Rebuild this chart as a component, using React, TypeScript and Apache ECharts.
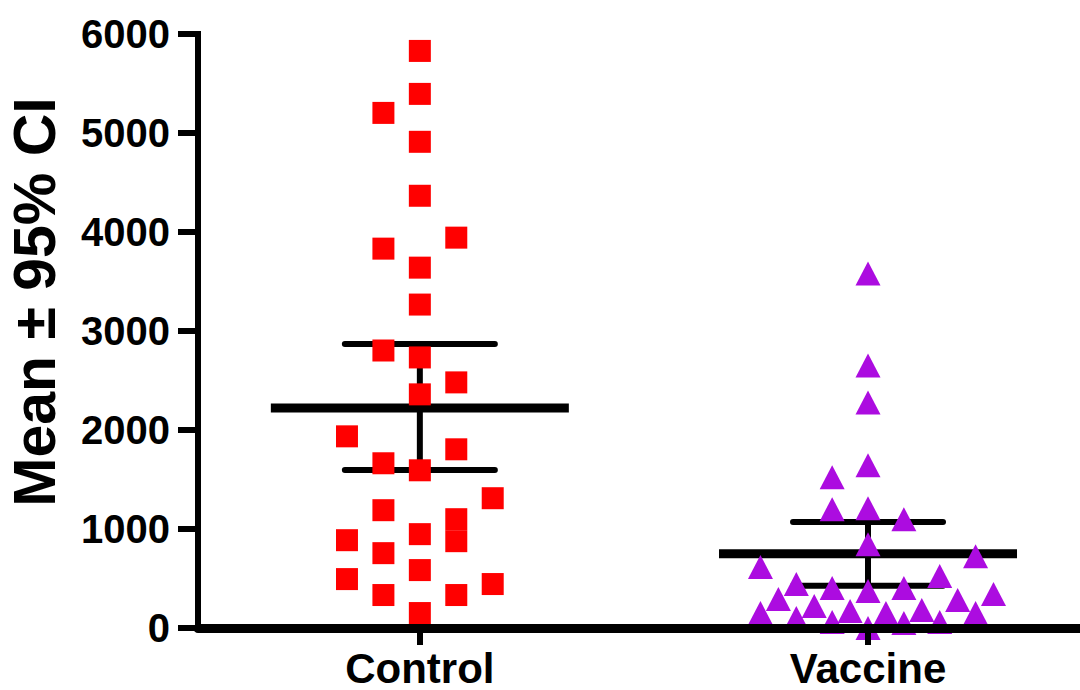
import React, { useEffect, useRef } from "react";
import * as echarts from "echarts";

// Groups on the x axis (placed at x = 1 and x = 2)
const CATEGORIES = ["Control", "Vaccine"];

// Individual measurements per group
const controlValues = [
  5829, 5395, 5203, 4911, 4366, 3943, 3832, 3640, 3267, 2803,
  2733, 2481, 2360, 1936, 1805, 1664, 1593, 1311, 1190, 1099,
  948, 887, 877, 756, 585, 494, 444, 333, 333, 151,
];
// Column slot of each point in the scatter-dot spread
const controlSlots = [
  0, 0, -1, 0, 0, 1, -1, 0, 0, -1,
  0, 1, 0, -2, 1, -1, 0, 2, -1, 1,
  0, -2, 1, -1, 0, -2, 2, -1, 1, 0,
];

const vaccineValues = [
  3580, 2652, 2279, 1644, 1523, 1200, 1210, 1099, 847, 726,
  615, 524, 444, 403, 373, 403, 343, 292, 282, 222,
  171, 182, 151, 151, 151, 101, 60, 50, 60, 0,
];
const vaccineSlots = [
  0, 0, 0, 0, -2, -2, 0, 2, 0, 6,
  -6, 4, -4, -2, 0, 2, 7, -5, 5, -3,
  -1, 3, -6, 1, 6, -4, -2, 2, 4, 0,
];

// Mean and 95% confidence interval per group: [mean, lower, upper]
const controlStats = [2222, 1596, 2869];
const vaccineStats = [750, 428, 1071];

const Y_MIN = 0;
const Y_MAX = 6000;
const Y_INTERVAL = 1000;

const FONT = '"Liberation Sans", Arial, Helvetica, sans-serif';

export default function App() {
  const ref = useRef<HTMLDivElement>(null);

  useEffect(() => {
    if (!ref.current) return;
    const chart = echarts.init(ref.current, null, { renderer: "svg" });

    const controlData = controlValues.map((v, i) => [1 + controlSlots[i] * 0.0813, v]);
    const vaccineData = vaccineValues.map((v, i) => [2 + vaccineSlots[i] * 0.04, v]);
    const statsData = [
      [1, ...controlStats],
      [2, ...vaccineStats],
    ];

    chart.setOption({
      animation: false,
      backgroundColor: "#ffffff",
      grid: {
        left: 198,
        right: 0,
        top: 34,
        bottom: 62,
        containLabel: false,
        outerBoundsMode: "none",
      },
      xAxis: {
        type: "value",
        min: 0.505,
        max: 2.473,
        z: 5,
        splitLine: { show: false },
        axisLine: { show: true, lineStyle: { color: "#000", width: 9 } },
        axisTick: {
          show: true,
          customValues: [1, 2],
          length: 17,
          lineStyle: { color: "#000", width: 6 },
        },
        axisLabel: {
          show: true,
          customValues: [1, 2],
          formatter: (v: number) => CATEGORIES[Math.round(v) - 1] ?? "",
          margin: 21,
          color: "#000",
          fontSize: 42,
          lineHeight: 38,
          fontWeight: "bold",
          fontFamily: FONT,
        },
      },
      yAxis: {
        type: "value",
        min: Y_MIN,
        max: Y_MAX,
        interval: Y_INTERVAL,
        splitLine: { show: false },
        axisLine: { show: true, lineStyle: { color: "#000", width: 6, cap: "square" } },
        axisTick: { show: true, length: 20, lineStyle: { color: "#000", width: 6 } },
        axisLabel: {
          margin: 28,
          color: "#000",
          fontSize: 40,
          fontWeight: "bold",
          fontFamily: FONT,
          formatter: (v: number) => String(v),
        },
        name: "Mean ± 95% CI",
        nameLocation: "middle",
        nameRotate: 90,
        nameGap: 140,
        nameTextStyle: {
          color: "#000",
          fontSize: 59,
          lineHeight: 46,
          fontWeight: "bold",
          fontFamily: FONT,
          padding: [0, 0, 0, 58],
        },
      },
      series: [
        {
          type: "custom",
          name: "Mean and CI",
          z: 1,
          clip: false,
          data: statsData,
          renderItem: (params: any, api: any) => {
            const x = api.value(0);
            const mean = api.coord([x, api.value(1)]);
            const lo = api.coord([x, api.value(2)]);
            const hi = api.coord([x, api.value(3)]);
            const cx = mean[0];
            const black = { stroke: "#000", fill: null };
            return {
              type: "group",
              children: [
                {
                  type: "line",
                  shape: { x1: cx, y1: hi[1], x2: cx, y2: lo[1] },
                  style: { ...black, lineWidth: 6 },
                },
                {
                  type: "line",
                  shape: { x1: cx - 75, y1: hi[1], x2: cx + 75, y2: hi[1] },
                  style: { ...black, lineWidth: 6, lineCap: "round" },
                },
                {
                  type: "line",
                  shape: { x1: cx - 75, y1: lo[1], x2: cx + 75, y2: lo[1] },
                  style: { ...black, lineWidth: 6, lineCap: "round" },
                },
                {
                  type: "line",
                  shape: { x1: cx - 149, y1: mean[1], x2: cx + 149, y2: mean[1] },
                  style: { ...black, lineWidth: 9 },
                },
              ],
            };
          },
        },
        {
          type: "scatter",
          name: "Control",
          z: 2,
          clip: false,
          symbol: "rect",
          symbolSize: 22,
          itemStyle: { color: "#FF0000", opacity: 1 },
          data: controlData,
        },
        {
          type: "scatter",
          name: "Vaccine",
          z: 2,
          clip: false,
          symbol: "triangle",
          symbolSize: [25, 24],
          itemStyle: { color: "#AC0CE0", opacity: 1 },
          data: vaccineData,
        },
      ],
    });

    return () => chart.dispose();
  }, []);

  return (
    <div
      ref={ref}
      style={{ position: "absolute", left: 0, top: 0, width: 1080, height: 690, background: "#fff" }}
    />
  );
}
